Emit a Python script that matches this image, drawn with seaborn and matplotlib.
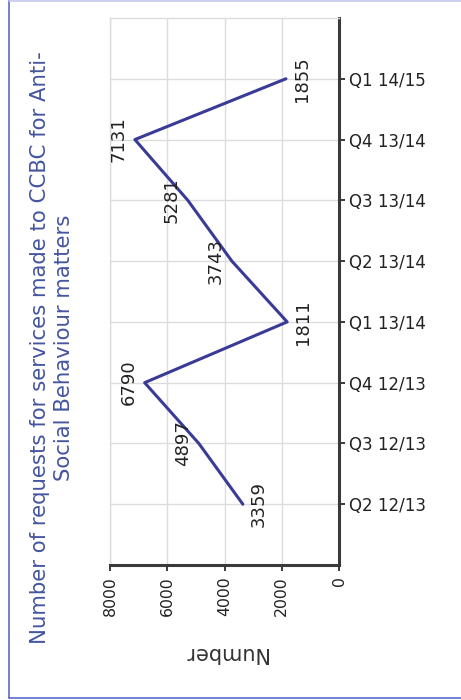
import numpy as np
import pandas as pd
import matplotlib
matplotlib.use("Agg")
import matplotlib.pyplot as plt
from matplotlib.lines import Line2D
import seaborn as sns

# Quarterly requests for anti-social behaviour services
quarters = ["Q2 12/13", "Q3 12/13", "Q4 12/13", "Q1 13/14",
            "Q2 13/14", "Q3 13/14", "Q4 13/14", "Q1 14/15"]
requests = [3359, 4897, 6790, 1811, 3743, 5281, 7131, 1855]
number_ticks = [0, 2000, 4000, 6000, 8000]

title = "Number of requests for services made to CCBC for Anti-\nSocial Behaviour matters"
axis_label = "Number"

sns.set_style("white")
plt.rcParams["font.family"] = ["DejaVu Sans"]

W, H = 461, 700
fig = plt.figure(figsize=(W / 100, H / 100), dpi=100)
fig.patch.set_facecolor("white")

# plot area in pixel coordinates
left, top, right, bottom = 110, 18, 339, 565
ax = fig.add_axes([left / W, 1 - bottom / H, (right - left) / W, (bottom - top) / H])

df = pd.DataFrame({"quarter": quarters,
                   "pos": np.arange(len(quarters)),
                   "requests": requests})

sns.lineplot(data=df, x="requests", y="pos", orient="y", sort=False,
             estimator=None, color="#393b96", linewidth=2.2, ax=ax)

ax.set_xlim(8000, 0)
ax.set_ylim(-1, len(quarters))
ax.set_xticks(number_ticks)
ax.set_xticklabels([str(t) for t in number_ticks], rotation=90,
                   fontsize=11.3, color="#222222")
ax.set_yticks(df["pos"])
ax.set_yticklabels(quarters, fontsize=12, color="#222222")
ax.yaxis.tick_right()
ax.set_xlabel("")
ax.set_ylabel("")

ax.grid(True, color="#dcdcdc", linewidth=1.0)
ax.set_axisbelow(True)
for side in ("top", "left"):
    ax.spines[side].set_color("#dcdcdc")
    ax.spines[side].set_linewidth(1.0)
for side in ("right", "bottom"):
    ax.spines[side].set_color("#3a3a3a")
    ax.spines[side].set_linewidth(2.2)
ax.tick_params(axis="x", direction="out", length=4, width=1.4,
               color="#3a3a3a", pad=4, bottom=True)
ax.tick_params(axis="y", direction="out", length=4, width=1.4,
               color="#3a3a3a", pad=3, right=True, left=False)

# value labels: troughs sit on the zero side of the point, others beyond it
n = len(requests)
for i, v in enumerate(requests):
    neighbours = [requests[j] for j in (i - 1, i + 1) if 0 <= j < n]
    trough = all(v < u for u in neighbours)
    dx = 7 if trough else -7
    ax.annotate(str(v), xy=(v, i), xytext=(dx, 0), textcoords="offset pixels",
                rotation=90, ha="left" if trough else "right", va="center",
                fontsize=13, color="#222222")

fig.text(52 / W, 1 - 348 / H, title, rotation=90, ha="center", va="center",
         multialignment="center", fontsize=15.3, color="#44559f", linespacing=1.25)
fig.text(225 / W, 1 - 653 / H, axis_label, rotation=180, ha="center",
         va="center", fontsize=15, color="#333333")

# outer frame
fig.add_artist(Line2D([8.5 / W, 8.5 / W], [1, 1 - 697.5 / H],
                      transform=fig.transFigure, color="#5b69c9", linewidth=1.2))
fig.add_artist(Line2D([8.5 / W, 1], [1 - 697.5 / H, 1 - 697.5 / H],
                      transform=fig.transFigure, color="#5b69c9", linewidth=1.2))
fig.add_artist(Line2D([8.5 / W, 1], [1 - 0.5 / H, 1 - 0.5 / H],
                      transform=fig.transFigure, color="#c5c8ea", linewidth=1.2))

fig.savefig("out.png", dpi=100)
